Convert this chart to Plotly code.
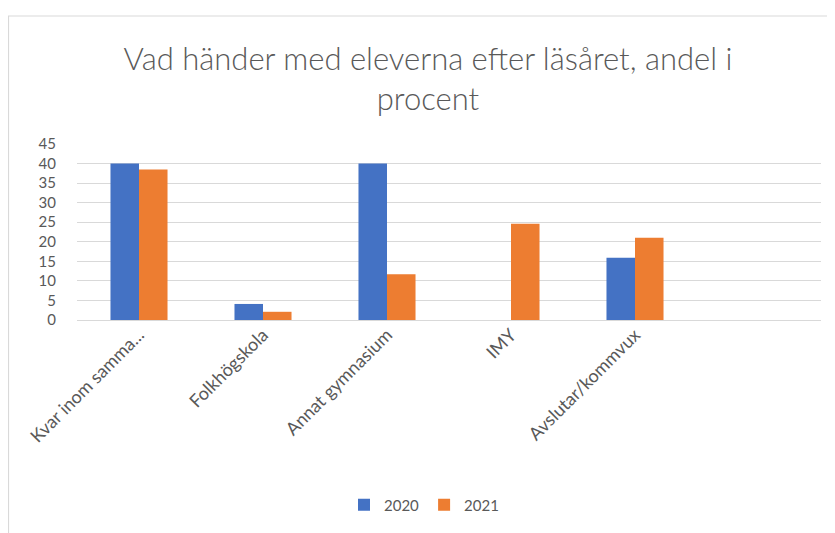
import plotly.graph_objects as go

categories = ["Kvar inom samma...", "Folkhögskola", "Annat gymnasium", "IMY", "Avslutar/kommvux"]
values_2020 = [40, 4.1, 40, None, 15.9]
values_2021 = [38.5, 2.1, 11.7, 24.6, 21.0]
y_ticks = [0, 5, 10, 15, 20, 25, 30, 35, 40, 45]
title_text = "Vad händer med eleverna efter läsåret, andel i<br>procent"

FONT = "Lato, Roboto, sans-serif"
GRAY = "#595959"

fig = go.Figure()
fig.add_trace(go.Bar(name="2020", x=categories, y=values_2020, marker_color="#4472C4",
                     marker_line_width=0))
fig.add_trace(go.Bar(name="2021", x=categories, y=values_2021, marker_color="#ED7D31",
                     marker_line_width=0))

OFF = 8  # page body margin
W, H = 835 - OFF, 533 - OFF
ml = 77 - OFF
mr = W - (821 - OFF)
mt = 144 - OFF
mb = H - (320 - OFF)
pw = W - ml - mr
ph = H - mt - mb

fig.update_layout(
    width=W, height=H,
    margin=dict(l=ml, r=mr, t=mt, b=mb, autoexpand=False),
    paper_bgcolor="white", plot_bgcolor="white",
    barmode="group", bargap=0.54, bargroupgap=0,
    title=dict(text=title_text, x=(428 - OFF) / W, xanchor="center",
               y=1 - (70 - OFF) / H, yanchor="top",
               font=dict(family=FONT, size=31, color=GRAY, weight=300)),
    font=dict(family=FONT, color=GRAY, size=14),
    legend=dict(orientation="h", x=(424 - OFF - ml) / pw, xanchor="center",
                y=(H - (505 - OFF) - mb) / ph, yanchor="middle",
                font=dict(size=15, color=GRAY), itemwidth=30, traceorder="normal"),
    showlegend=True,
    shapes=[dict(type="rect", xref="paper", yref="paper",
                 x0=(0.5 - ml) / pw, x1=1.5, y0=-3, y1=(H - (16 - OFF) - mb) / ph,
                 line=dict(color="#d9d9d9", width=1.2), fillcolor="rgba(0,0,0,0)", layer="below")],
)
fig.update_xaxes(range=[-0.5, 5.5], tickangle=-45, showgrid=False, showline=False,
                 ticks="", tickfont=dict(size=18, color=GRAY), fixedrange=True)
fig.update_yaxes(range=[0, 45], tickvals=y_ticks, showgrid=True, gridcolor="#d9d9d9",
                 gridwidth=1, zeroline=True, zerolinecolor="#d9d9d9", zerolinewidth=1,
                 showline=False, ticks="", tickfont=dict(size=15, color=GRAY),
                 ticklabelstandoff=20)

fig.write_html("out.html")
